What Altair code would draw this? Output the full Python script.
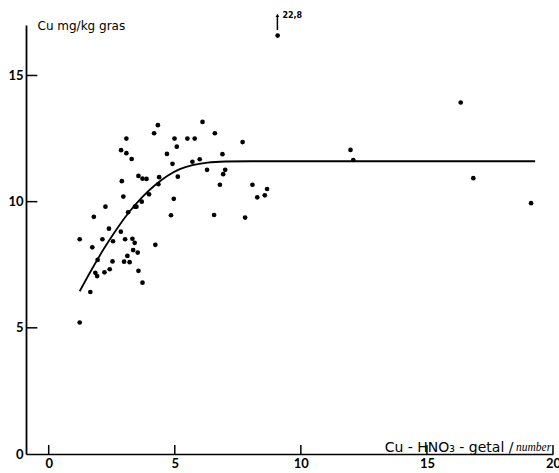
import altair as alt
import pandas as pd

# Cu-HNO3-getal (x) vs Cu mg/kg gras (y)
x_vals = [1.23, 1.23, 1.65, 1.73, 1.79, 1.94, 1.85, 1.92, 2.13, 2.25, 2.21, 2.39, 2.42,
          2.53, 2.55, 2.86, 2.90, 2.87, 2.96, 3.03, 2.99, 3.08, 3.08, 3.12, 3.15, 3.21,
          3.29, 3.32, 3.35, 3.41, 3.42, 3.56, 3.53, 3.48, 3.56, 3.69, 3.72, 3.88, 3.72,
          3.98, 4.18, 4.33, 4.23, 4.35, 4.38, 4.69, 4.85, 4.91, 4.96, 4.99, 5.08, 5.12,
          5.50, 5.70, 5.79, 5.99, 6.10, 6.28, 6.56, 6.59, 6.79, 6.89, 6.92, 7.00, 7.69,
          7.79, 8.08, 8.27, 8.57, 8.66, 11.97, 12.08, 16.34, 16.84, 19.13, 9.08]
y_vals = [8.51, 5.21, 6.42, 8.19, 9.40, 7.69, 7.18, 7.05, 8.51, 9.80, 7.20, 8.93, 7.32,
          7.63, 8.43, 8.81, 10.81, 12.04, 10.20, 8.51, 7.62, 12.50, 11.92, 7.85, 9.58, 7.60,
          11.69, 8.53, 8.08, 8.37, 9.80, 7.26, 7.98, 9.80, 11.02, 10.00, 10.91, 10.90, 6.79,
          10.29, 12.71, 13.03, 8.29, 10.69, 10.97, 11.89, 9.46, 11.50, 10.11, 12.50, 12.18, 10.99,
          12.50, 11.58, 12.50, 11.68, 13.16, 11.26, 9.47, 12.71, 10.67, 11.88, 11.09, 11.26, 12.36,
          9.37, 10.67, 10.17, 10.25, 10.50, 12.05, 11.65, 13.93, 10.93, 9.94, 16.58]

# fitted curve
curve_x = [1.23, 1.7, 2.2, 2.7, 3.2, 3.7, 4.2, 4.7, 5.2, 5.7, 6.3, 7.0, 8.0, 12.0, 19.29]
curve_y = [6.45, 7.30, 8.15, 8.92, 9.60, 10.17, 10.64, 11.02, 11.29, 11.45, 11.55, 11.59, 11.60, 11.60, 11.60]

x_ticks = [0, 5, 10, 15, 20]
y_ticks = [5, 10, 15]
y_labels = [0, 5, 10, 15]

off_x = [9.07]
off_label = ["22,8"]

pts = pd.DataFrame({"x": x_vals, "y": y_vals})
curve = pd.DataFrame({"x": curve_x, "y": curve_y})
xt = pd.DataFrame({"v": x_ticks})
yt = pd.DataFrame({"v": y_ticks})
off = pd.DataFrame({"x": off_x, "label": off_label})

xscale = alt.Scale(domain=[-0.9, 20], nice=False, zero=False)
yscale = alt.Scale(domain=[0, 17], nice=False, zero=False)

xaxis = alt.Axis(values=x_ticks, ticks=False, grid=False, labelPadding=3,
                 labelFont="Lato", labelFontSize=13, labelFontWeight="bold",
                 labelColor="black", labelFlush=False, domainColor="black", domainWidth=1.5,
                 title="Cu - HNO₃ - getal /", titleX=487, titleY=-3, titleAlign="right",
                 titleBaseline="alphabetic", titleFont="DejaVu Sans", titleFontSize=14,
                 titleFontWeight="normal", titleColor="black")
yaxis = alt.Axis(values=y_labels, ticks=False, grid=False, labelPadding=3,
                 labelFont="Lato", labelFontSize=13, labelFontWeight="bold",
                 labelColor="black", labelFlush=False, domainColor="black", domainWidth=1.8,
                 title="Cu mg/kg gras", titleAngle=0, titleX=11, titleY=4, titleAlign="left",
                 titleBaseline="alphabetic", titleFont="DejaVu Sans", titleFontSize=12,
                 titleFontWeight="normal", titleColor="black")

points = alt.Chart(pts).mark_circle(color="black", opacity=1, size=22).encode(
    x=alt.X("x:Q", scale=xscale, axis=xaxis),
    y=alt.Y("y:Q", scale=yscale, axis=yaxis),
)

line = alt.Chart(curve).mark_line(color="black", strokeWidth=1.8, interpolate="monotone").encode(
    x="x:Q", y="y:Q"
)

xtick = alt.Chart(xt).mark_rule(color="black", strokeWidth=1.5).encode(
    x="v:Q", y=alt.datum(0), y2=alt.datum(0.36)
)
ytick = alt.Chart(yt).mark_rule(color="black", strokeWidth=1.5).encode(
    y="v:Q", x=alt.datum(-0.9), x2=alt.datum(-0.45)
)

arrow = alt.Chart(off).mark_rule(color="black", strokeWidth=1.5).encode(
    x="x:Q", y=alt.datum(16.8), y2=alt.datum(17.35)
)
head = alt.Chart(off).mark_point(shape="triangle-up", filled=True, color="black",
                                 opacity=1, size=14).encode(
    x="x:Q", y=alt.datum(17.38)
)
offtext = alt.Chart(off).mark_text(align="left", baseline="alphabetic", dx=5,
                                   font="DejaVu Sans", fontSize=8, fontWeight="bold",
                                   color="black").encode(
    x="x:Q", y=alt.datum(17.29), text="label:N"
)

unit = alt.Chart(off).mark_text(align="left", baseline="alphabetic", font="Liberation Serif",
                                fontSize=11.5, fontStyle="italic", color="black").encode(
    x=alt.value(490), y=alt.value(426), text=alt.value("number")
)

chart = alt.layer(points, line, xtick, ytick, arrow, head, offtext, unit).properties(
    width=527, height=429,
    autosize=alt.AutoSizeParams(type="none"),
    padding={"left": 26, "top": 25, "right": 6, "bottom": 19},
    background="white",
).configure_view(stroke=None)

chart.save("out.html", embed_options={"renderer": "svg", "actions": False})
